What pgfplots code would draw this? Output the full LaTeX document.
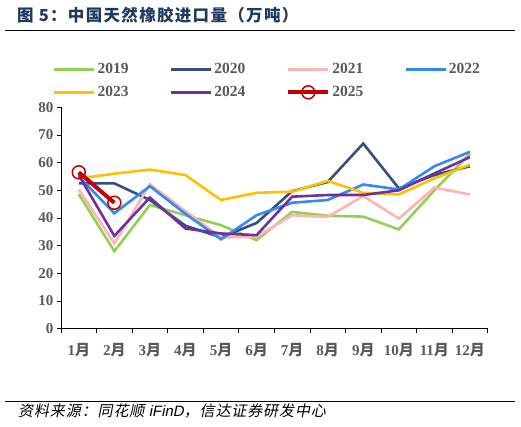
\documentclass[border=0pt]{standalone}
\usepackage{pgfplots}
\pgfplotsset{compat=1.18}
\usepackage{fontspec}
\setmainfont{Liberation Serif}
\newfontfamily\cjk{Noto Sans CJK SC}
\newfontfamily\cjktitle{Noto Sans CJK SC}[LetterSpace=8]
\newfontfamily\cjksl{Noto Sans CJK SC}[FakeSlant=0.2, LetterSpace=6]
\newfontfamily\arialsl{Liberation Sans}[FakeSlant=0.2]

\definecolor{c2019}{HTML}{92D050}
\definecolor{c2020}{HTML}{34507C}
\definecolor{c2021}{HTML}{FFB3B3}
\definecolor{c2022}{HTML}{338AF5}
\definecolor{c2023}{HTML}{FFC000}
\definecolor{c2024}{HTML}{7030A0}
\definecolor{c2025}{HTML}{C00000}
\definecolor{tgray}{HTML}{595959}
\definecolor{titleblue}{HTML}{1F3A60}

\begin{document}
\begin{tikzpicture}[x=1pt,y=1pt]
\useasboundingbox (0,0) rectangle (521,427);

\node[anchor=west, inner sep=0pt, text=titleblue,
      font=\fontsize{16.5}{19}\selectfont\cjktitle\bfseries] at (17,412) {图 5：中国天然橡胶进口量（万吨）};
\draw[line width=1pt] (5,396) -- (515,396);
\draw[line width=0.8pt] (5,26) -- (515,26);
\node[anchor=west, inner sep=0pt, font=\fontsize{15}{18}\selectfont\cjksl] at (18,16)
  {资料来源：同花顺 {\arialsl iFinD}，信达证券研发中心};

\begin{axis}[
    at={(61pt,98.3pt)}, anchor=south west,
    scale only axis, width=426.7pt, height=221.4pt,
    xmin=0.5, xmax=12.5, ymin=0, ymax=80,
    axis x line*=bottom, axis y line*=left,
    axis line style={black, line width=0.8pt},
    xtick={1,...,12},
    xticklabels={{1\cjk 月},{2\cjk 月},{3\cjk 月},{4\cjk 月},{5\cjk 月},{6\cjk 月},
                 {7\cjk 月},{8\cjk 月},{9\cjk 月},{10\cjk 月},{11\cjk 月},{12\cjk 月}},
    minor xtick={0.5,1.5,...,12.5},
    major x tick style={draw=none},
    ytick={0,10,...,80},
    tick align=outside,
    major tick length=4pt, minor tick length=4pt,
    tick style={black, line width=0.8pt},
    ticklabel style={font=\fontsize{15}{18}\selectfont\bfseries, text=tgray},
    /pgf/number format/assume math mode=true,
    xticklabel style={yshift=-7pt},
    clip=false,
    every axis plot/.append style={line width=2.6pt, line join=miter},
    legend columns=4,
    legend style={draw=none, fill=none, at={(-0.019,1.119)}, anchor=west,
        inner sep=0pt, row sep=7pt,
        font=\fontsize{15.5}{18}\selectfont\bfseries, text=tgray,
        nodes={inner sep=2pt},
        /tikz/every even column/.append style={column sep=39pt}},
    legend cell align=left,
    legend image code/.code={\draw[mark repeat=2,mark phase=2,#1]
        plot coordinates {(0pt,0pt) (20pt,0pt) (40pt,0pt)};},
]
\addplot[c2019, no marks] coordinates {(1,48.6) (2,28.0) (3,44.7) (4,41.0) (5,37.4) (6,32.0) (7,42.2) (8,40.8) (9,40.5) (10,35.9) (11,50.0) (12,63.2)};
\addplot[c2020, no marks] coordinates {(1,52.5) (2,52.5) (3,46.5) (4,37.2) (5,33.0) (6,38.2) (7,49.7) (8,53.0) (9,66.9) (10,50.7) (11,55.5) (12,58.7)};
\addplot[c2021, no marks] coordinates {(1,50.3) (2,30.8) (3,52.2) (4,42.5) (5,33.0) (6,33.2) (7,41.0) (8,40.4) (9,47.9) (10,39.8) (11,51.0) (12,48.5)};
\addplot[c2022, no marks] coordinates {(1,55.0) (2,41.7) (3,51.5) (4,41.5) (5,32.3) (6,41.0) (7,45.5) (8,46.5) (9,52.1) (10,50.3) (11,58.7) (12,63.9)};
\addplot[c2023, no marks] coordinates {(1,54.3) (2,56.0) (3,57.5) (4,55.5) (5,46.5) (6,49.1) (7,49.5) (8,53.4) (9,49.1) (10,48.5) (11,54.3) (12,59.3)};
\addplot[c2024, no marks] coordinates {(1,55.5) (2,33.5) (3,47.4) (4,36.2) (5,34.4) (6,33.8) (7,47.7) (8,48.3) (9,48.3) (10,50.0) (11,56.1) (12,62.0)};
\addplot[c2025, line width=4pt, mark=o, mark size=6.5pt,
         mark options={line width=1.5pt, fill=none}] coordinates {(1,56.5) (2,45.5)};
\legend{2019,2020,2021,2022,2023,2024,2025}
\end{axis}
\end{tikzpicture}
\end{document}
